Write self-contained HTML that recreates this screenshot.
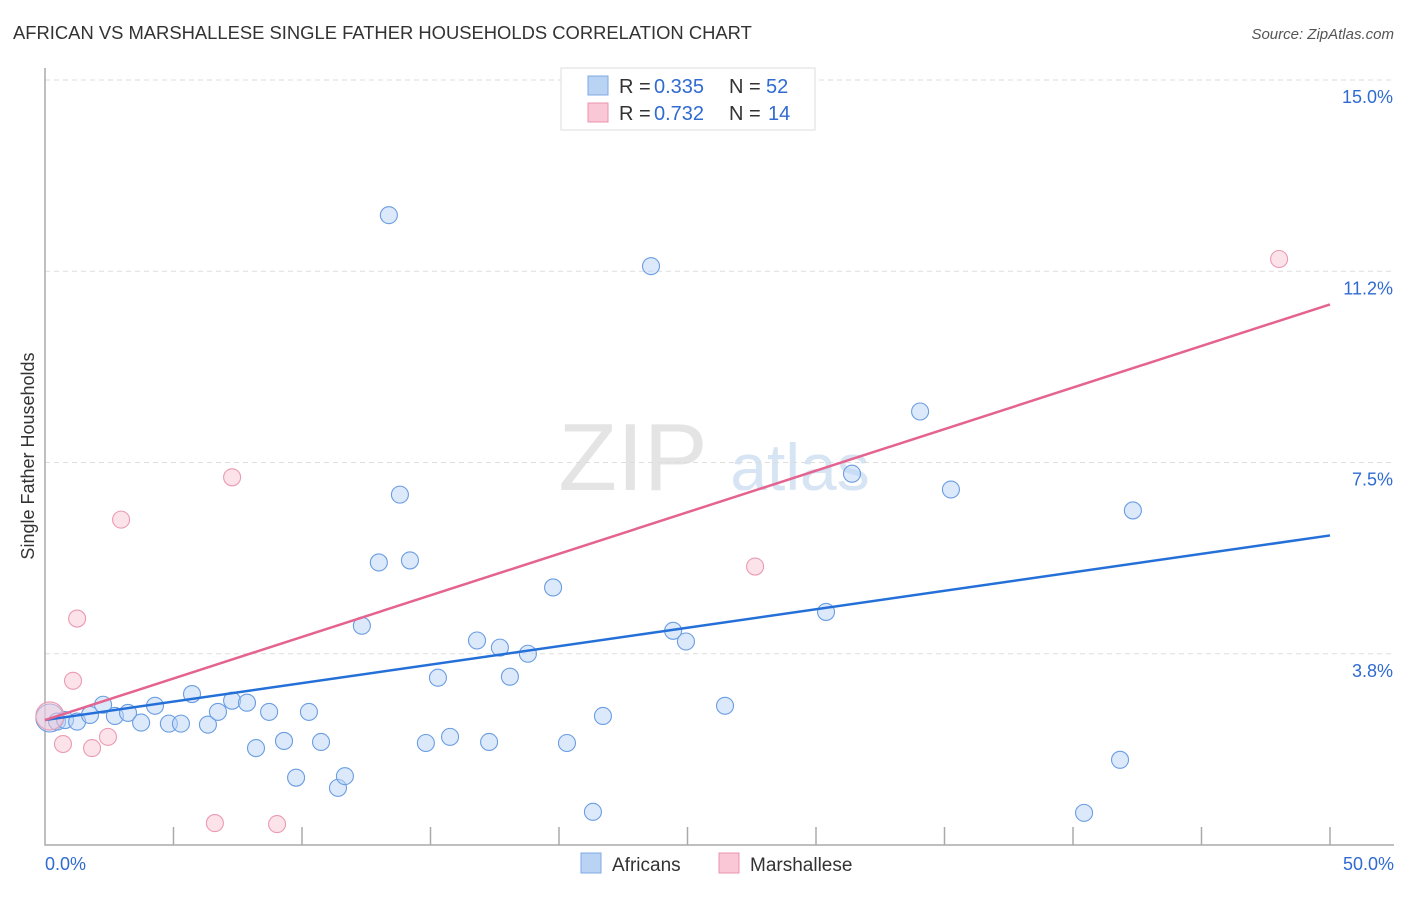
<!DOCTYPE html>
<html><head><meta charset="utf-8"><style>
body{margin:0;background:#fff;font-family:"Liberation Sans",sans-serif;}
svg text{font-family:"Liberation Sans",sans-serif;}
</style></head><body>
<svg id="chart" width="1406" height="892">
<text x="13" y="39" font-size="18.4" fill="#333">AFRICAN VS MARSHALLESE SINGLE FATHER HOUSEHOLDS CORRELATION CHART</text>
<text x="1394" y="39" font-size="15" fill="#555" font-style="italic" text-anchor="end">Source: ZipAtlas.com</text>
<text x="633" y="490" font-size="96" fill="#e4e4e4" font-family="Liberation Serif" text-anchor="middle">ZIP</text>
<text x="800" y="490" font-size="66" fill="#d6e4f4" text-anchor="middle">atlas</text>
<g id="grid"></g>
<g id="axes"></g>
<g id="marks"></g>
<text transform="translate(34,456) rotate(-90)" font-size="18" fill="#333" text-anchor="middle">Single Father Households</text>
<g>
<rect x="561" y="68" width="254" height="62" fill="#fff" stroke="#ddd"/>
<rect x="588" y="76" width="20" height="19" fill="#b9d3f5" stroke="#7ea9e3"/>
<text x="619" y="93" font-size="20" fill="#333">R =</text>
<text x="654" y="93" font-size="20" fill="#2f6bd1">0.335</text>
<text x="729" y="93" font-size="20" fill="#333">N =</text>
<text x="766" y="93" font-size="20" fill="#2f6bd1">52</text>
<rect x="588" y="103" width="20" height="19" fill="#f9c7d5" stroke="#eb93ad"/>
<text x="619" y="120" font-size="20" fill="#333">R =</text>
<text x="654" y="120" font-size="20" fill="#2f6bd1">0.732</text>
<text x="729" y="120" font-size="20" fill="#333">N =</text>
<text x="768" y="120" font-size="20" fill="#2f6bd1">14</text>
</g>
<g>
<rect x="581" y="853" width="20" height="20" fill="#b9d3f5" stroke="#7ea9e3"/>
<text x="612" y="871" font-size="19" fill="#333">Africans</text>
<rect x="719" y="853" width="20" height="20" fill="#f9c7d5" stroke="#eb93ad"/>
<text x="750" y="871" font-size="19" fill="#333">Marshallese</text>
</g>
</svg>
<script>
const blueX=[0.19,0.47,0.78,1.25,1.75,2.26,2.72,3.23,3.74,4.28,4.82,5.29,5.72,6.34,6.73,7.28,7.86,8.21,8.72,9.30,9.77,10.27,10.74,11.40,11.67,12.33,12.99,13.38,13.81,14.20,14.82,15.29,15.76,16.81,17.28,17.70,18.09,18.79,19.77,20.31,21.32,21.71,23.58,24.44,24.94,26.46,30.39,31.40,34.05,35.25,40.43,41.83,42.33];
const blueY=[2.49,2.42,2.45,2.42,2.55,2.75,2.53,2.59,2.40,2.73,2.38,2.38,2.96,2.36,2.61,2.83,2.79,1.90,2.61,2.04,1.32,2.61,2.02,1.12,1.35,4.30,5.54,12.35,6.87,5.58,2.00,3.28,2.12,4.01,2.02,3.87,3.30,3.75,5.05,2.00,0.65,2.53,11.35,4.20,3.99,2.73,4.57,7.28,8.50,6.97,0.63,1.67,6.56];
const pinkX=[0.19,0.70,1.09,1.25,1.83,2.45,2.96,6.61,7.28,9.03,27.63,48.02];
const pinkY=[2.53,1.98,3.22,4.44,1.90,2.12,6.38,0.43,7.21,0.41,5.46,11.49];
const blueTrend=[2.45,6.07];
const pinkTrend=[2.45,10.60];
const yTicks=[3.75,7.5,11.25,15];
const yTickLabels=["3.8%","7.5%","11.2%","15.0%"];
const xTickLabels=["0.0%","50.0%"];
const X0=45,X1=1330,Y0=845,Y1=80;
const sx=v=>X0+(v/50)*(X1-X0);
const sy=v=>Y0-(v/15)*(Y0-Y1);
const NS="http://www.w3.org/2000/svg";
function mk(parent,tag,attrs){const e=document.createElementNS(NS,tag);for(const k in attrs)e.setAttribute(k,attrs[k]);document.getElementById(parent).appendChild(e);return e;}
yTicks.forEach((t,i)=>{
 const l=mk('grid','line',{x1:X0,x2:1394,y1:sy(t),y2:sy(t),stroke:'#ddd','stroke-dasharray':'5,4'});
 
 
 const tx=mk('grid','text',{x:1393,y:sy(t)+23,'font-size':18,fill:'#2f6bd1','text-anchor':'end'});
 tx.textContent=yTickLabels[i];
 
 
});
const ax=mk('axes','path',{d:`M${X0} 68V${Y0}H1394`,stroke:'#aaa',fill:'none','stroke-width':1.5});


for(let i=1;i<=10;i++){const x=sx(i*5);const t=mk('axes','line',{x1:x,x2:x,y1:827,y2:Y0,stroke:'#aaa','stroke-width':1.5});
 
 }
[[0,'start',X0],[50,'end',1394]].forEach((d,i)=>{const t=mk('axes','text',{x:d[2],y:870,'font-size':18,fill:'#2f6bd1','text-anchor':d[1]});t.textContent=xTickLabels[i];
 
 });
function pts(xs,ys,fill,stroke,name){xs.forEach((x,i)=>{const r=(i===0)?14:8.5;const c=mk('marks','circle',{cx:sx(x),cy:sy(ys[i]),r:r,fill:fill,'fill-opacity':0.5,stroke:stroke,'stroke-width':1.1});
 
 });}
pts(blueX,blueY,'#b9d3f5','#6a9de2','african-point');
pts(pinkX,pinkY,'#f9c7d5','#eb9ab2','marshallese-point');
const bl=mk('marks','line',{x1:sx(0),y1:sy(blueTrend[0]),x2:sx(50),y2:sy(blueTrend[1]),stroke:'#2470d8','stroke-width':2.5});


const pl=mk('marks','line',{x1:sx(0),y1:sy(pinkTrend[0]),x2:sx(50),y2:sy(pinkTrend[1]),stroke:'#e4648f','stroke-width':2.5});


</script>
</body></html>
